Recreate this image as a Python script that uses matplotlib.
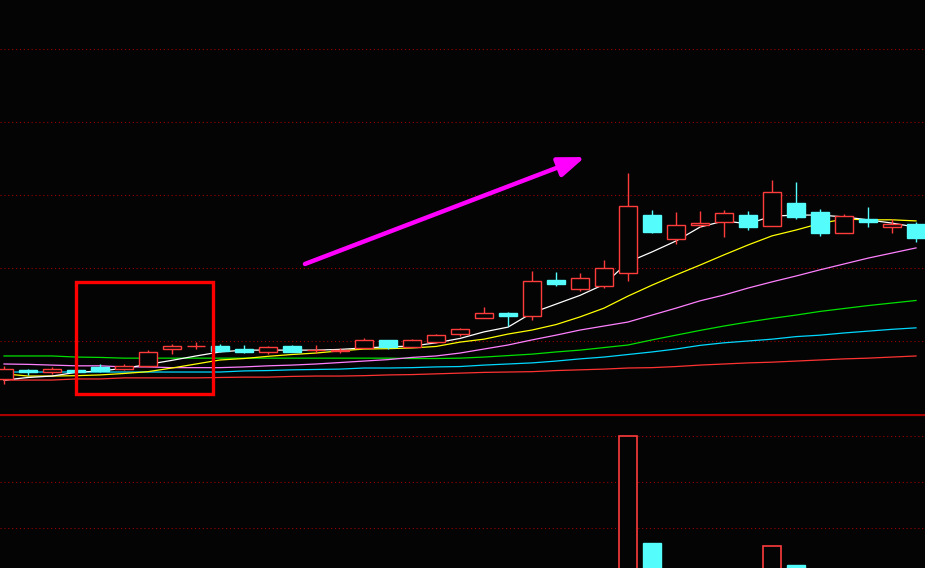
import matplotlib
matplotlib.use('Agg')
import matplotlib.pyplot as plt
from matplotlib.patches import Rectangle
import numpy as np

# daily bars (price units arbitrary)
opens = [6.96, 7.21, 7.15, 7.21, 7.29, 7.23, 7.32, 7.78, 7.85, 7.86,
         7.78, 7.70, 7.86, 7.74, 7.73, 7.81, 8.03, 7.84, 7.97, 8.19,
         8.63, 8.77, 8.68, 9.67, 9.42, 9.51, 9.86, 11.45, 10.79, 11.18,
         11.26, 11.45, 11.15, 11.78, 11.53, 10.96, 11.34, 11.12, 11.21]
highs = [7.32, 7.23, 7.29, 7.23, 7.37, 7.37, 7.75, 7.92, 7.97, 7.92,
         7.89, 7.86, 7.89, 7.89, 7.81, 8.08, 8.03, 8.05, 8.19, 8.36,
         8.93, 8.79, 9.92, 9.89, 9.86, 10.22, 12.60, 11.59, 11.53, 11.56,
         11.59, 11.56, 12.41, 12.36, 11.62, 11.48, 11.67, 11.34, 11.26]
lows = [6.82, 7.07, 7.10, 7.12, 7.15, 7.21, 7.29, 7.64, 7.78, 7.70,
        7.67, 7.64, 7.70, 7.67, 7.67, 7.81, 7.78, 7.84, 7.95, 8.14,
        8.63, 8.41, 8.58, 9.51, 9.37, 9.45, 9.64, 10.96, 10.66, 11.12,
        10.85, 11.04, 11.15, 11.34, 10.88, 10.96, 11.12, 10.96, 10.71]
closes = [7.23, 7.15, 7.23, 7.15, 7.18, 7.32, 7.70, 7.86, 7.86, 7.73,
          7.70, 7.84, 7.70, 7.75, 7.74, 8.03, 7.84, 8.03, 8.16, 8.33,
          8.77, 8.68, 9.64, 9.56, 9.73, 10.00, 11.70, 10.99, 11.18, 11.23,
          11.51, 11.12, 12.08, 11.40, 10.96, 11.42, 11.26, 11.21, 10.82]
volumes = [0.45, 0.35, 0.30, 0.30, 0.40, 0.35, 0.70, 0.55, 0.45, 0.40,
           0.35, 0.35, 0.40, 0.30, 0.30, 0.50, 0.45, 0.45, 0.50, 0.55,
           0.70, 0.60, 1.05, 0.80, 0.75, 0.95, 4.00, 1.67, 0.90, 0.70,
           0.85, 0.80, 1.61, 1.20, 0.95, 0.80, 0.75, 0.65, 0.85]

# moving averages as drawn on the screenshot
ma5 = [6.93, 7.00, 7.04, 7.14, 7.18, 7.25, 7.36, 7.47, 7.59, 7.70,
       7.75, 7.75, 7.75, 7.75, 7.77, 7.81, 7.84, 7.86, 7.95, 8.07,
       8.25, 8.38, 8.77, 9.01, 9.25, 9.55, 10.16, 10.44, 10.74, 11.12,
       11.29, 11.21, 11.42, 11.45, 11.45, 11.40, 11.32, 11.23, 11.12]
ma10 = [7.10, 7.04, 7.04, 7.05, 7.07, 7.11, 7.16, 7.26, 7.37, 7.48,
        7.52, 7.58, 7.63, 7.67, 7.73, 7.78, 7.79, 7.81, 7.85, 7.97,
        8.05, 8.19, 8.30, 8.45, 8.66, 8.90, 9.23, 9.53, 9.81, 10.08,
        10.36, 10.63, 10.88, 11.04, 11.22, 11.34, 11.32, 11.32, 11.29]
ma20 = [7.37, 7.36, 7.34, 7.32, 7.32, 7.29, 7.29, 7.27, 7.27, 7.27,
        7.29, 7.32, 7.34, 7.37, 7.41, 7.45, 7.49, 7.55, 7.59, 7.67,
        7.78, 7.89, 8.03, 8.16, 8.30, 8.41, 8.52, 8.71, 8.90, 9.10,
        9.26, 9.45, 9.62, 9.78, 9.95, 10.11, 10.27, 10.41, 10.55]
ma30 = [7.59, 7.59, 7.59, 7.56, 7.55, 7.53, 7.53, 7.53, 7.53, 7.53,
        7.53, 7.53, 7.53, 7.53, 7.53, 7.53, 7.53, 7.52, 7.52, 7.53,
        7.56, 7.60, 7.64, 7.70, 7.75, 7.82, 7.89, 8.03, 8.16, 8.29,
        8.41, 8.52, 8.62, 8.71, 8.81, 8.89, 8.97, 9.04, 9.11]
ma60 = [7.15, 7.15, 7.15, 7.15, 7.15, 7.15, 7.15, 7.15, 7.15, 7.15,
        7.18, 7.19, 7.21, 7.22, 7.23, 7.26, 7.26, 7.27, 7.29, 7.30,
        7.34, 7.37, 7.40, 7.45, 7.51, 7.56, 7.63, 7.70, 7.78, 7.88,
        7.95, 8.00, 8.05, 8.12, 8.16, 8.22, 8.27, 8.32, 8.36]
ma120 = [6.93, 6.93, 6.93, 6.96, 6.96, 6.99, 6.99, 6.99, 6.99, 7.00,
         7.01, 7.01, 7.03, 7.04, 7.04, 7.05, 7.07, 7.08, 7.10, 7.12,
         7.14, 7.15, 7.16, 7.19, 7.21, 7.23, 7.26, 7.27, 7.30, 7.34,
         7.37, 7.40, 7.42, 7.45, 7.48, 7.51, 7.53, 7.56, 7.59]

price_grid = [8, 10, 12, 14, 16]
vol_grid = [2, 3, 4]

UP = '#ff3c3c'
DOWN = '#54fcfc'
GRID = '#9a0000'
BG = '#040404'

fig = plt.figure(figsize=(9.25, 5.68), dpi=100, facecolor=BG)
ax = fig.add_axes([0, 154 / 568, 1, 414 / 568], facecolor=BG)
vax = fig.add_axes([0, 0, 1, 154 / 568], facecolor=BG)

x = np.arange(len(closes))
w = 0.79

for a in (ax, vax):
    a.set_xlim(-4 / 24, 921 / 24)
    a.set_xticks([])
    a.set_yticks([])
    for s in a.spines.values():
        s.set_visible(False)

ax.set_ylim(6.0, 17.342)
vax.set_ylim(1.13, 4.478)

for g in price_grid:
    ax.axhline(g, color=GRID, lw=0.8, ls=(0, (1, 2.5)), zorder=0)
for g in vol_grid:
    vax.axhline(g, color=GRID, lw=0.8, ls=(0, (1, 2.5)), zorder=0)
# separator between price and volume panes
vax.axhline(4.455, color='#a80000', lw=1.6, zorder=1)

# moving averages
ma_styles = [(ma120, '#ff3232'), (ma60, '#00d8ff'), (ma30, '#00e000'),
             (ma20, '#ff80ff'), (ma10, '#ffff00'), (ma5, '#ffffff')]
for vals, col in ma_styles:
    ax.plot(x, vals, color=col, lw=0.9, zorder=2)

# candles
for i in x:
    o, h, l, c = opens[i], highs[i], lows[i], closes[i]
    if c >= o:
        ax.vlines(i, c, h, color=UP, lw=1.0, zorder=3)
        ax.vlines(i, l, o, color=UP, lw=1.0, zorder=3)
        ax.add_patch(Rectangle((i - w / 2, o), w, c - o, facecolor=BG,
                               edgecolor=UP, lw=1.0, zorder=4))
        vax.add_patch(Rectangle((i - w / 2, 0), w, volumes[i], facecolor=BG,
                                edgecolor=UP, lw=1.2, zorder=3))
    else:
        ax.vlines(i, l, h, color=DOWN, lw=1.0, zorder=3)
        ax.add_patch(Rectangle((i - w / 2, c), w, o - c, facecolor=DOWN,
                               edgecolor=DOWN, lw=1.0, zorder=4))
        vax.add_patch(Rectangle((i - w / 2, 0), w, volumes[i], facecolor=DOWN,
                                edgecolor=DOWN, lw=1.0, zorder=3))

# hand-drawn annotations
ax.add_patch(Rectangle((3.0, 6.55), 5.71, 3.07, fill=False,
                       edgecolor='#ff0000', lw=2.4, zorder=6))
ax.annotate('', xy=(24.21, 13.04), xytext=(12.54, 10.11),
            arrowprops=dict(arrowstyle='-|>,head_length=0.8,head_width=0.3',
                            color='#ff00ff', lw=3.2, mutation_scale=20,
                            shrinkA=0, shrinkB=0),
            zorder=7)

fig.savefig('out.png', dpi=100, facecolor=BG)
